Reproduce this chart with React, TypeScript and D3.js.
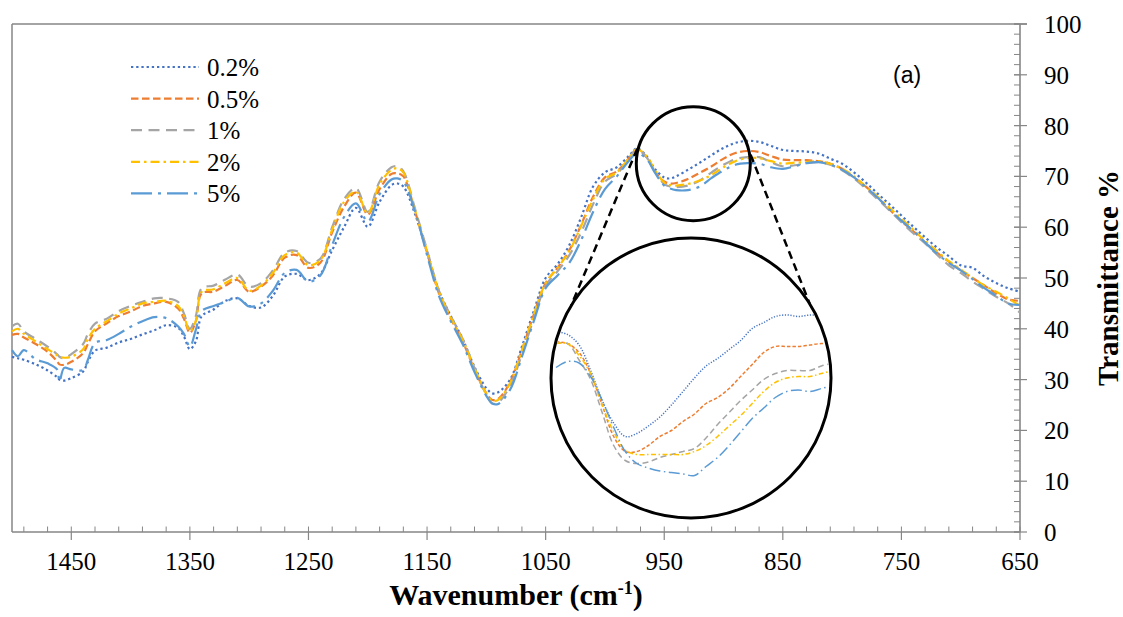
import React from "react";
import * as d3 from "d3";

// FTIR transmittance spectra (%), sampled along wavenumber (cm-1)
const wavenumbers = [
  1500, 1495, 1490, 1480, 1470, 1462, 1460, 1456, 1450, 1440, 1436, 1430, 1420, 1410, 1400, 1390,
  1380, 1370, 1360, 1355, 1350, 1345, 1340, 1330, 1320, 1310, 1300, 1290, 1280, 1270, 1260, 1250,
  1240, 1230, 1220, 1210, 1200, 1190, 1180, 1175, 1170, 1160, 1150, 1140, 1130, 1120, 1110, 1100,
  1095, 1090, 1080, 1070, 1060, 1050, 1040, 1030, 1020, 1010, 1000, 990, 980, 973, 965, 958,
  950, 945, 940, 930, 920, 910, 900, 890, 880, 870, 860, 850, 840, 830, 820, 810,
  800, 790, 780, 770, 760, 750, 740, 730, 720, 710, 700, 690, 680, 670, 660, 650,
];

const t02 = [
  34.5, 34.2, 33.9, 33.0, 31.8, 30.5, 30.0, 29.8, 30.3, 31.6, 33.5, 35.7, 36.3, 37.3, 38.0, 38.9,
  39.7, 40.7, 40.2, 38.5, 36.0, 37.5, 42.5, 43.8, 45.5, 46.0, 44.5, 44.2, 46.5, 50.3, 50.8, 49.6,
  50.8, 55.5, 60.0, 63.8, 60.1, 65.0, 68.3, 68.6, 68.0, 62.5, 55.0, 47.5, 42.5, 38.0, 32.5, 28.3,
  27.3, 27.5, 30.0, 36.5, 43.5, 50.0, 52.7, 56.5, 62.0, 68.0, 70.8, 71.8, 74.0, 75.5, 74.0, 71.5,
  69.8, 69.6, 70.0, 71.3, 72.7, 74.2, 75.6, 76.6, 77.0, 76.8, 76.0, 75.2, 75.0, 74.9, 74.5, 73.5,
  72.5, 70.8, 68.8, 66.6, 64.5, 62.3, 60.1, 58.0, 56.0, 54.3, 52.5, 52.0, 50.3, 49.0, 48.0, 47.3,
];

const t05 = [
  38.8, 39.0, 38.3, 37.0, 35.5, 33.6, 33.0, 32.9, 33.5, 35.2, 37.0, 39.5, 41.1, 42.5, 43.4, 44.5,
  45.0, 45.3, 44.0, 42.0, 39.2, 41.5, 47.0, 47.3, 48.5, 49.6, 47.3, 48.3, 50.5, 54.0, 54.5, 52.0,
  53.0, 59.0, 64.0, 66.8, 62.5, 67.5, 70.5, 70.6, 70.0, 63.0, 55.0, 47.0, 42.0, 37.5, 32.0, 27.3,
  26.0, 26.2, 29.5, 35.8, 42.8, 49.0, 52.0, 55.5, 60.5, 66.0, 69.8, 71.0, 73.5, 75.3, 73.8, 71.0,
  69.0, 68.6, 68.7, 69.5, 70.7, 72.0, 73.5, 74.6, 75.0, 74.8, 74.0, 73.3, 73.2, 73.2, 73.0, 72.5,
  71.5, 69.8, 68.0, 65.8, 63.5, 61.2, 59.2, 57.0, 55.0, 53.2, 51.5, 50.0, 48.5, 47.0, 45.8, 45.5,
];

const t1 = [
  40.5, 41.0, 39.5, 38.0, 36.5, 35.0, 34.5, 34.2, 35.0, 37.0, 39.0, 41.0, 42.0, 43.5, 44.5, 45.3,
  46.0, 46.0, 45.3, 43.0, 40.0, 42.5, 48.0, 48.5, 49.7, 50.7, 48.3, 49.0, 51.5, 55.0, 55.3, 53.0,
  53.8, 60.0, 65.5, 67.7, 63.0, 69.0, 71.8, 72.0, 71.0, 63.5, 55.5, 47.5, 42.5, 38.0, 32.3, 27.0,
  25.3, 25.5, 28.8, 35.0, 42.0, 48.5, 51.3, 54.5, 59.0, 64.5, 69.0, 70.5, 73.3, 75.5, 73.8, 71.0,
  68.5, 68.0, 67.9, 68.2, 69.2, 70.8, 72.3, 73.4, 73.8, 73.8, 72.8, 72.0, 72.2, 72.6, 72.8, 72.3,
  71.2, 69.6, 67.6, 65.5, 63.3, 61.0, 58.8, 56.8, 54.6, 52.5, 51.0, 49.3, 47.8, 46.3, 45.0, 43.2,
];

const t2 = [
  39.5, 40.0, 39.0, 37.5, 36.0, 34.8, 34.5, 34.3, 34.5, 36.0, 38.0, 40.0, 41.5, 43.0, 44.0, 45.0,
  45.3, 45.5, 44.5, 42.5, 39.5, 41.5, 47.3, 47.8, 49.0, 50.0, 47.5, 48.5, 51.0, 54.5, 55.0, 52.5,
  53.5, 59.5, 65.0, 67.0, 62.7, 68.5, 71.3, 71.6, 70.8, 63.2, 55.2, 47.3, 42.2, 37.8, 32.2, 27.2,
  25.8, 26.0, 29.3, 35.8, 42.8, 49.0, 52.0, 55.3, 60.3, 65.5, 69.5, 70.8, 73.5, 75.3, 74.0, 71.3,
  68.8, 68.3, 68.2, 68.5, 69.2, 70.3, 71.8, 73.0, 73.6, 73.6, 73.0, 72.5, 72.7, 72.8, 73.0, 72.5,
  71.5, 70.0, 68.0, 66.0, 63.8, 61.7, 59.5, 57.3, 55.3, 53.3, 51.7, 50.0, 48.5, 47.3, 46.0, 44.5,
];

const t5 = [
  35.8, 34.6, 35.8, 34.0, 33.2, 32.0, 29.6, 32.3, 32.0, 31.9, 33.9, 37.2, 37.8, 39.0, 40.4, 41.5,
  42.3, 42.1, 40.5, 39.0, 36.5, 39.8, 43.5, 44.5, 45.3, 46.1, 44.4, 45.0, 47.5, 51.0, 51.6, 49.3,
  50.5, 56.5, 62.0, 64.7, 61.1, 66.5, 69.4, 69.6, 69.0, 63.0, 54.5, 46.5, 41.5, 37.0, 31.5, 26.8,
  25.3, 25.2, 28.0, 34.5, 41.5, 48.0, 50.5, 53.0, 57.5, 63.0, 67.5, 70.0, 73.0, 74.5, 73.5, 70.8,
  68.2, 67.6, 67.3, 67.3, 68.0, 69.7, 71.2, 72.3, 72.6, 72.5, 71.8, 71.5, 72.0, 72.6, 72.8, 72.3,
  71.3, 69.8, 67.9, 65.8, 63.5, 61.3, 59.3, 57.0, 54.8, 53.0, 51.5, 49.8, 48.0, 46.5, 45.0, 44.7,
];

// Enlarged detail of the 985–865 cm-1 band
const insetWavenumbers = [
  985, 980, 975, 970, 965, 960, 955, 950, 945, 940, 935, 930, 925, 920, 915, 910, 905, 900, 895, 890,
  885, 880, 875, 870, 865,
];
const inset02 = [
  75.9, 75.7, 75.0, 73.3, 71.3, 69.8, 68.9, 69.1, 69.6, 70.2, 71.0, 71.9, 72.8, 73.6, 74.1, 74.7,
  75.3, 76.1, 76.5, 76.9, 77.0, 76.9, 77.0, 77.0, 77.0,
];
const inset05 = [
  75.2, 75.1, 74.5, 73.1, 71.0, 68.9, 67.9, 67.9, 68.3, 68.9, 69.3, 69.9, 70.4, 71.1, 71.5, 72.1,
  72.9, 73.7, 74.5, 74.9, 74.9, 74.9, 75.0, 75.1, 75.1,
];
const inset1 = [
  75.1, 75.1, 74.0, 72.7, 70.5, 68.3, 67.3, 67.1, 67.2, 67.5, 67.7, 67.9, 68.1, 68.8, 69.7, 70.5,
  71.3, 72.0, 72.7, 73.1, 73.3, 73.3, 73.3, 73.6, 73.8,
];
const inset2 = [
  75.1, 75.1, 74.3, 73.1, 71.0, 69.2, 68.0, 67.7, 67.7, 67.7, 67.7, 67.7, 67.9, 68.3, 68.9, 69.6,
  70.3, 71.1, 71.9, 72.5, 72.8, 72.9, 72.9, 73.1, 73.3,
];
const inset5 = [
  73.5, 73.9, 73.8, 72.9, 71.3, 69.5, 67.9, 67.1, 66.8, 66.6, 66.5, 66.4, 66.3, 66.9, 67.5, 68.3,
  69.2, 70.1, 70.8, 71.5, 71.9, 72.0, 71.9, 72.1, 72.3,
];

const seriesLabels = ["0.2%", "0.5%", "1%", "2%", "5%"];
const seriesValues = [t02, t05, t1, t2, t5];
const insetValues = [inset02, inset05, inset1, inset2, inset5];

const xTickLabels = [1450, 1350, 1250, 1150, 1050, 950, 850, 750, 650];
const yTickLabels = [0, 10, 20, 30, 40, 50, 60, 70, 80, 90, 100];

// Line styles for each concentration
const seriesStyles = [
  { color: "#4472C4", dash: "2.3 2.9", insetDash: "1.2 1.6" },
  { color: "#ED7D31", dash: "7.5 3.5", insetDash: "3.5 2" },
  { color: "#A5A5A5", dash: "11 6.5", insetDash: "6 3.5" },
  { color: "#FFC000", dash: "9 4 2.5 4", insetDash: "5 2.5 1.5 2.5" },
  { color: "#5B9BD5", dash: "21 6 3 6", insetDash: "11 3.5 1.5 3.5" },
];

const SERIF = '"Times New Roman", "Liberation Serif", Tinos, serif';
const AXIS = "#868686";

const W = 1123;
const H = 617;
const plot = { left: 12, right: 1020, top: 24, bottom: 532 };

const x = d3.scaleLinear().domain([1500, 650]).range([plot.left, plot.right]);
const y = d3.scaleLinear().domain([0, 100]).range([plot.bottom, plot.top]);

// magnified view geometry
const lens = { wn: 925.5, t: 72.5, r: 57 };
const loupe = { cx: 691, cy: 378, r: 140 };
const insetX = d3.scaleLinear().domain([985, 865]).range([556, 833]);
const insetY = d3.scaleLinear().domain([77, 67]).range([315, 465]);

const serifText = { fontFamily: SERIF, fill: "#000" } as const;

export default function App() {
  const line = d3
    .line<number>()
    .x((_, i) => x(wavenumbers[i]))
    .y((d) => y(d))
    .curve(d3.curveCatmullRom.alpha(0.5));

  const insetLine = d3
    .line<number>()
    .x((_, i) => insetX(insetWavenumbers[i]))
    .y((d) => insetY(d))
    .curve(d3.curveCatmullRom.alpha(0.5));

  const xMinor = d3.range(1490, 649, -20);
  const yMinor = d3.range(0, 101, 2);

  const lx = x(lens.wn);
  const ly = y(lens.t);
  const pt = (cx: number, cy: number, r: number, deg: number) => {
    const a = (deg * Math.PI) / 180;
    return [cx + r * Math.cos(a), cy + r * Math.sin(a)];
  };
  const connectors = [
    [pt(lx, ly, lens.r + 1, 195), pt(loupe.cx, loupe.cy, loupe.r, 211)],
    [pt(lx, ly, lens.r + 1, -9), pt(loupe.cx, loupe.cy, loupe.r, -32)],
  ];

  return (
    <svg
      width={W}
      height={H}
      viewBox={`0 0 ${W} ${H}`}
      style={{ position: "absolute", left: 0, top: 0, display: "block", background: "#fff" }}
    >
      <defs>
        <clipPath id="loupe-clip">
          <circle cx={loupe.cx} cy={loupe.cy} r={loupe.r - 1.5} />
        </clipPath>
      </defs>

      {/* plot frame */}
      <line x1={plot.left} x2={plot.right + 7} y1={plot.top} y2={plot.top} stroke={AXIS} strokeWidth={1.5} />
      <line x1={plot.left} x2={plot.left} y1={plot.top} y2={plot.bottom} stroke={AXIS} strokeWidth={1.5} />

      {/* x axis */}
      <line x1={plot.left} x2={plot.right} y1={plot.bottom} y2={plot.bottom} stroke={AXIS} strokeWidth={1.6} />
      {xMinor.map((v) => (
        <line key={"xm" + v} x1={x(v)} x2={x(v)} y1={plot.bottom} y2={plot.bottom - 5.5} stroke={AXIS} strokeWidth={1} />
      ))}
      {xTickLabels.map((v) => (
        <g key={"xt" + v}>
          <line x1={x(v)} x2={x(v)} y1={plot.bottom} y2={plot.bottom + 8} stroke={AXIS} strokeWidth={1.2} />
          <text x={x(v)} y={570} textAnchor="middle" style={{ ...serifText, fontSize: 25 }}>
            {v}
          </text>
        </g>
      ))}

      {/* y axis on the right */}
      <line x1={plot.right} x2={plot.right} y1={plot.top} y2={plot.bottom} stroke={AXIS} strokeWidth={1.6} />
      {yMinor.map((v) => (
        <line key={"ym" + v} x1={plot.right - 6} x2={plot.right} y1={y(v)} y2={y(v)} stroke={AXIS} strokeWidth={1} />
      ))}
      {yTickLabels.map((v) => (
        <g key={"yt" + v}>
          <line x1={plot.right - 6} x2={plot.right + 7} y1={y(v)} y2={y(v)} stroke={AXIS} strokeWidth={1.2} />
          <text x={1044} y={y(v) + 9} style={{ ...serifText, fontSize: 25 }}>
            {v}
          </text>
        </g>
      ))}

      {/* axis titles */}
      <text x={516} y={605} textAnchor="middle" style={{ ...serifText, fontSize: 30, fontWeight: "bold" }}>
        Wavenumber (cm
        <tspan dy={-11} style={{ fontSize: 18 }}>-1</tspan>
        <tspan dy={11}>)</tspan>
      </text>
      <text
        transform={`translate(1118, ${(plot.top + plot.bottom) / 2}) rotate(-90)`}
        textAnchor="middle"
        style={{ ...serifText, fontSize: 29, fontWeight: "bold" }}
      >
        Transmittance %
      </text>

      {/* spectra */}
      {seriesValues.map((vals, i) => (
        <path
          key={"s" + i}
          d={line(vals) || ""}
          fill="none"
          stroke={seriesStyles[i].color}
          strokeWidth={2.2}
          strokeDasharray={seriesStyles[i].dash}
        />
      ))}

      {/* panel label */}
      <text x={893} y={83} style={{ fontFamily: '"Liberation Sans", Arial, sans-serif', fontSize: 23, fill: "#000" }}>
        (a)
      </text>

      {/* legend */}
      {seriesLabels.map((lab, i) => {
        const ry = 67 + i * 31.6;
        return (
          <g key={"lg" + i}>
            <line
              x1={131}
              x2={199}
              y1={ry}
              y2={ry}
              stroke={seriesStyles[i].color}
              strokeWidth={2.2}
              strokeDasharray={seriesStyles[i].dash}
            />
            <text x={207} y={ry + 9} style={{ ...serifText, fontSize: 25 }}>
              {lab}
            </text>
          </g>
        );
      })}

      {/* magnifier: lens over the 925 cm-1 band and the enlarged view */}
      <circle cx={lx} cy={ly} r={lens.r} fill="none" stroke="#000" strokeWidth={3} />
      {connectors.map((c, i) => (
        <line
          key={"cn" + i}
          x1={c[0][0]}
          y1={c[0][1]}
          x2={c[1][0]}
          y2={c[1][1]}
          stroke="#000"
          strokeWidth={2.5}
          strokeDasharray="8 5"
        />
      ))}
      <circle cx={loupe.cx} cy={loupe.cy} r={loupe.r} fill="#fff" stroke="#000" strokeWidth={3} />
      <g clipPath="url(#loupe-clip)">
        {insetValues.map((vals, i) => (
          <path
            key={"in" + i}
            d={insetLine(vals) || ""}
            fill="none"
            stroke={seriesStyles[i].color}
            strokeWidth={1.5}
            strokeDasharray={seriesStyles[i].insetDash}
          />
        ))}
      </g>
    </svg>
  );
}
